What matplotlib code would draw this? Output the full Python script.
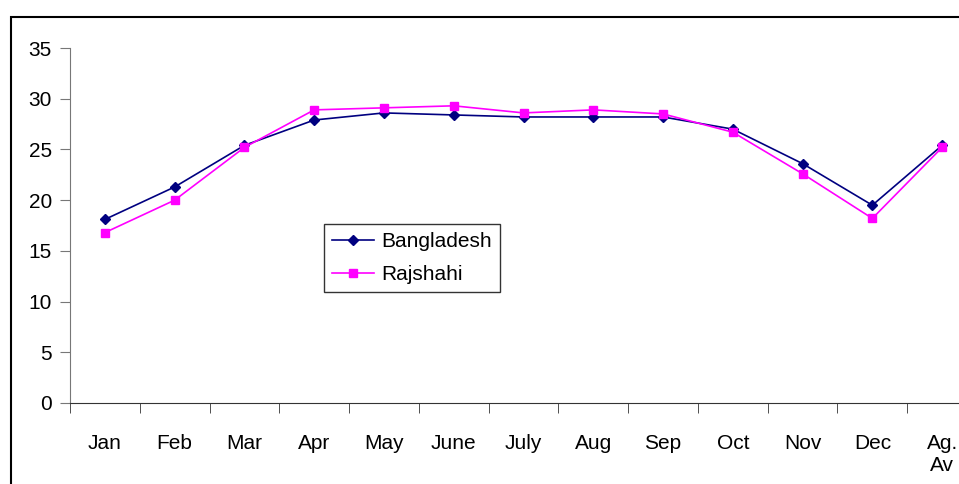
import matplotlib
matplotlib.use('Agg')
import matplotlib.pyplot as plt
from matplotlib.patches import Rectangle

plt.rcParams['font.family'] = ['Liberation Sans', 'DejaVu Sans']

months = ['Jan', 'Feb', 'Mar', 'Apr', 'May', 'June', 'July', 'Aug', 'Sep',
          'Oct', 'Nov', 'Dec', 'Ag.\nAv']
bangladesh = [18.1, 21.3, 25.4, 27.9, 28.6, 28.4, 28.2, 28.2, 28.2, 27.0, 23.6, 19.5, 25.4]
rajshahi = [16.8, 20.0, 25.2, 28.9, 29.1, 29.3, 28.6, 28.9, 28.5, 26.7, 22.6, 18.2, 25.2]

W, H = 959, 484
fig = plt.figure(figsize=(W / 100, H / 100), dpi=100)

# outer chart border (extends past the right/bottom edge like the source crop)
fig.patches.append(Rectangle((11 / W, -0.1), 1.1, 1 - 17 / H + 0.1,
                             transform=fig.transFigure, fill=False,
                             edgecolor='black', linewidth=1.5))

left, right, top, bottom = 70, 977, 48, 403
ax = fig.add_axes([left / W, 1 - bottom / H, (right - left) / W, (bottom - top) / H])

x = list(range(len(months)))
ax.plot(x, bangladesh, color='#000080', marker='D', markersize=5.5, linewidth=1.2,
        label='Bangladesh')
ax.plot(x, rajshahi, color='#FF00FF', marker='s', markersize=6, linewidth=1.2,
        label='Rajshahi')

ax.set_xlim(-0.5, len(months) - 0.5)
ax.set_ylim(0, 35)
ax.set_yticks(range(0, 36, 5))
ax.set_xticks(x)
ax.set_xticklabels(months)
ax.set_xticks([i - 0.5 for i in range(len(months) + 1)], minor=True)
ax.tick_params(axis='x', which='major', length=0, pad=22, labelsize=15)
ax.tick_params(axis='x', which='minor', length=7, direction='out', color='#333333')
ax.tick_params(axis='y', length=7, direction='out', pad=6, labelsize=15, color='#777777')

for s in ['top', 'right']:
    ax.spines[s].set_visible(False)
ax.spines['left'].set_color('#777777')
ax.spines['bottom'].set_color('#333333')

leg = ax.legend(loc='upper left', bbox_to_anchor=((324 - left) / (right - left), 1 - (224 - top) / (bottom - top)),
                fontsize=15, frameon=True, fancybox=False, edgecolor='black',
                borderpad=0.4, handlelength=2.0, handletextpad=0.35, labelspacing=0.65,
                borderaxespad=0)
leg.get_frame().set_linewidth(1.0)

fig.savefig('out.png', dpi=100)
